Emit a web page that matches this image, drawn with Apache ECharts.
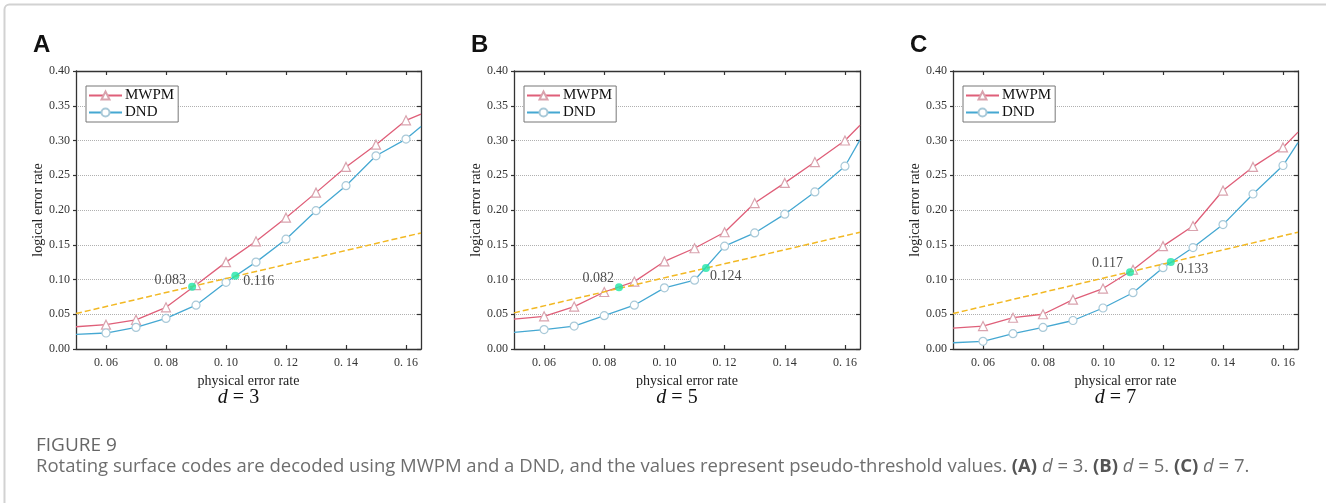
<!DOCTYPE html>
<html>
<head>
<meta charset="utf-8" />
<title>Figure 9</title>
<style>
  * { margin: 0; padding: 0; }
  body { background: #fff; }
  #main { width: 1326px; height: 503px; }
</style>
<script src="https://cdn.jsdelivr.net/npm/echarts@6/dist/echarts.min.js"></script>
</head>
<body>
<div id="main"></div>
<script>
// physical error rate (first and last points are the plot edges, no marker)
var xs = [0.05, 0.06, 0.07, 0.08, 0.09, 0.10, 0.11, 0.12, 0.13, 0.14, 0.15, 0.16, 0.165];
var xTicks = [0.06, 0.08, 0.10, 0.12, 0.14, 0.16];

// d = 3
var mwpmA = [0.032, 0.035, 0.042, 0.060, 0.092, 0.125, 0.155, 0.189, 0.225, 0.262, 0.294, 0.329, 0.338];
var dndA  = [0.021, 0.023, 0.031, 0.044, 0.063, 0.096, 0.125, 0.158, 0.199, 0.235, 0.278, 0.302, 0.320];
// d = 5
var mwpmB = [0.043, 0.047, 0.061, 0.082, 0.097, 0.126, 0.145, 0.168, 0.210, 0.239, 0.269, 0.300, 0.322];
var dndB  = [0.024, 0.028, 0.033, 0.048, 0.063, 0.088, 0.099, 0.148, 0.167, 0.194, 0.226, 0.263, 0.301];
// d = 7
var mwpmC = [0.030, 0.033, 0.045, 0.050, 0.071, 0.087, 0.114, 0.148, 0.177, 0.228, 0.262, 0.290, 0.312];
var dndC  = [0.009, 0.011, 0.022, 0.031, 0.041, 0.059, 0.081, 0.117, 0.146, 0.179, 0.223, 0.264, 0.297];

// reference line p_L = p (dashed)
var refX = [0.05, 0.165];
var refA = [0.051, 0.167];
var refB = [0.052, 0.168];
var refC = [0.051, 0.168];

// pseudo-threshold points
var crossA = [[0.0887, 0.0896], [0.1031, 0.1055]];
var crossB = [[0.0849, 0.0888], [0.1138, 0.1165]];
var crossC = [[0.1090, 0.1104], [0.1226, 0.1252]];
var crossLabA = ['0.083', '0.116'];
var crossLabB = ['0.082', '0.124'];
var crossLabC = ['0.117', '0.133'];

var chart = echarts.init(document.getElementById('main'));

var serif = 'Liberation Serif';
var panels = [
  {letter: 'A', d: '3', left: 76,  width: 345, mwpm: mwpmA, dnd: dndA, ref: refA, cross: crossA, lab: crossLabA,
   off: [[-2, -6], [4, 6]]},
  {letter: 'B', d: '5', left: 514, width: 346, mwpm: mwpmB, dnd: dndB, ref: refB, cross: crossB, lab: crossLabB,
   off: [[-1, -9], [0, 8]]},
  {letter: 'C', d: '7', left: 953, width: 345, mwpm: mwpmC, dnd: dndC, ref: refC, cross: crossC, lab: crossLabC,
   off: [[-3, -9], [2, 7]]}
];
var TOP = 71, H = 278;
var frame = {show: true, onZero: false, lineStyle: {color: '#333', width: 1.3}};

var grids = [], xAxes = [], yAxes = [], series = [], legends = [], graphics = [];

function pts(arr) {
  return xs.map(function (x, j) {
    var it = {value: [x, arr[j]]};
    if (j === 0 || j === xs.length - 1) it.symbol = 'none';
    return it;
  });
}

panels.forEach(function (p, i) {
  grids.push({left: p.left, top: TOP, width: p.width, height: H});

  // bottom axis with labels
  xAxes.push({gridIndex: i, type: 'value', min: 0.05, max: 0.165, position: 'bottom',
    axisLine: frame,
    axisTick: {show: true, inside: true, length: 4, customValues: xTicks, lineStyle: {color: '#333', width: 1.2}},
    axisLabel: {customValues: xTicks, margin: 8, fontFamily: serif, fontSize: 12, color: '#333',
      formatter: function (v) { return v.toFixed(2).replace('.', '. '); }},
    splitLine: {show: false}});
  // top axis, ticks only
  xAxes.push({gridIndex: i, type: 'value', min: 0.05, max: 0.165, position: 'top',
    axisLine: frame,
    axisTick: {show: true, inside: true, length: 4, customValues: xTicks, lineStyle: {color: '#333', width: 1.2}},
    axisLabel: {show: false}, splitLine: {show: false}});

  yAxes.push({gridIndex: i, type: 'value', min: 0, max: 0.4, interval: 0.05, position: 'left',
    axisLine: frame,
    axisTick: {show: true, length: 3, lineStyle: {color: '#333', width: 1.2}},
    axisLabel: {margin: 6, fontFamily: serif, fontSize: 12, color: '#333',
      formatter: function (v) { return v.toFixed(2); }},
    splitLine: {show: true, showMinLine: false, showMaxLine: false,
      lineStyle: {type: 'dotted', color: '#b0b0b0', width: 1}}});
  yAxes.push({gridIndex: i, type: 'value', min: 0, max: 0.4, interval: 0.05, position: 'right',
    axisLine: frame,
    axisTick: {show: true, inside: true, length: 4, lineStyle: {color: '#333', width: 1.2}},
    axisLabel: {show: false}, splitLine: {show: false}});

  var xi = i * 2, yi = i * 2;
  series.push({name: 'MWPM', type: 'line', xAxisIndex: xi, yAxisIndex: yi, data: pts(p.mwpm),
    symbol: 'triangle', symbolSize: 9, showAllSymbol: true,
    lineStyle: {color: '#df5f79', width: 1.3},
    itemStyle: {color: '#ffffff', borderColor: '#d9a3ae', borderWidth: 1.2},
    z: 3});
  series.push({name: 'DND', type: 'line', xAxisIndex: xi, yAxisIndex: yi, data: pts(p.dnd),
    symbol: 'circle', symbolSize: 8, showAllSymbol: true,
    lineStyle: {color: '#45a8d2', width: 1.3},
    itemStyle: {color: '#ffffff', borderColor: '#a9c9d8', borderWidth: 1.2},
    z: 3});
  series.push({name: 'ref' + i, type: 'line', xAxisIndex: xi, yAxisIndex: yi, symbol: 'none',
    data: refX.map(function (x, j) { return [x, p.ref[j]]; }),
    lineStyle: {color: '#f2b823', width: 1.5, type: [6, 3]}, z: 4, silent: true});
  series.push({name: 'cross' + i, type: 'scatter', xAxisIndex: xi, yAxisIndex: yi, symbolSize: 8,
    itemStyle: {color: '#1fe6a9'}, z: 6,
    data: p.cross.map(function (c, j) {
      return {value: c, label: {show: true, formatter: p.lab[j],
        position: j === 0 ? 'left' : 'right', distance: 0, offset: p.off[j],
        fontFamily: serif, fontSize: 14, color: '#222'}};
    })});

  legends.push({data: ['MWPM', 'DND'], orient: 'vertical', left: p.left + 10, top: TOP + 15,
    padding: [2, 4, 2, 2], itemGap: 2, itemWidth: 33, itemHeight: 10,
    borderColor: '#777', borderWidth: 1, backgroundColor: '#fff',
    textStyle: {fontFamily: serif, fontSize: 15, color: '#111', padding: [0, 0, 0, -2]},
    selectedMode: false});

  var cx = p.left + p.width / 2;
  graphics.push({type: 'text', left: p.left - 43, top: 33,
    style: {text: p.letter, font: 'bold 24px "Liberation Sans"', fill: '#111'}});
  graphics.push({type: 'text', x: p.left - 38, y: TOP + H / 2, rotation: Math.PI / 2,
    style: {text: 'logical error rate', font: '14px "Liberation Serif"', fill: '#222',
      align: 'center', verticalAlign: 'middle'}});
  graphics.push({type: 'text', x: cx, y: 381,
    style: {text: 'physical error rate', font: '14px "Liberation Serif"', fill: '#222',
      align: 'center', verticalAlign: 'middle'}});
  graphics.push({type: 'text', x: cx - 10, y: 398,
    style: {text: '{i|d} = ' + p.d, align: 'center', verticalAlign: 'middle',
      font: '20px "Liberation Serif"', fill: '#111',
      rich: {i: {fontStyle: 'italic', fontFamily: serif, fontSize: 20, fill: '#111'}}}});
});

// outer figure frame
graphics.unshift({type: 'rect', shape: {x: 4.5, y: 4.5, width: 1400, height: 600, r: 5},
  style: {fill: 'none', stroke: '#d2d2d2', lineWidth: 2}, silent: true});

graphics.push({type: 'text', x: 36, y: 446,
  style: {text: 'FIGURE 9', font: '19px "Open Sans"', fill: '#666', verticalAlign: 'middle'}});
graphics.push({type: 'text', x: 36, y: 467,
  style: {text: 'Rotating surface codes are decoded using MWPM and a DND, and the values represent pseudo-threshold values. ' +
    '{b|(A)} {i|d} = 3. {b|(B)} {i|d} = 5. {b|(C)} {i|d} = 7.',
    font: '18.5px "Open Sans"', fill: '#6e6e6e', verticalAlign: 'middle',
    rich: {b: {fontWeight: 'bold', fontFamily: 'Open Sans', fontSize: 18.5, fill: '#555'},
           i: {fontStyle: 'italic', fontFamily: 'Open Sans', fontSize: 18.5, fill: '#6e6e6e'}}}});

chart.setOption({
  animation: false,
  backgroundColor: '#fff',
  grid: grids,
  xAxis: xAxes,
  yAxis: yAxes,
  legend: legends,
  series: series,
  graphic: graphics
});
</script>
</body>
</html>
